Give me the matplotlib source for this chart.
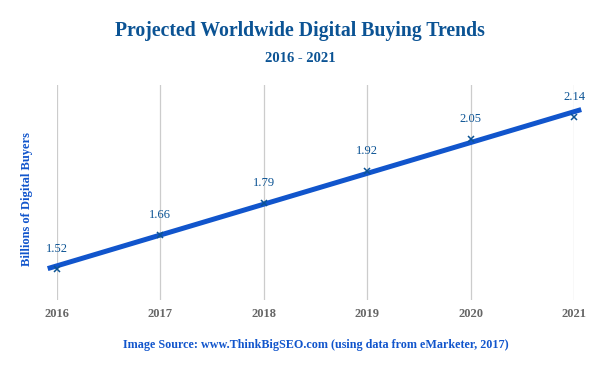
import matplotlib.pyplot as plt
import numpy as np

# data
years = [2016, 2017, 2018, 2019, 2020, 2021]
buyers = [1.52, 1.66, 1.79, 1.92, 2.05, 2.14]
labels = ['1.52', '1.66', '1.79', '1.92', '2.05', '2.14']

DARK = '#0b5394'
BLUE = '#1155cc'
plt.rcParams['font.family'] = ['Liberation Serif', 'DejaVu Serif']

fig = plt.figure(figsize=(6, 3.71), dpi=100)
ax = fig.add_axes([57 / 600, 71 / 371, 517 / 600, 215 / 371])

ax.set_xlim(2016, 2021)
ax.set_ylim(1.393, 2.27)

# linear trendline through the points
slope, icpt = np.polyfit(years, buyers, 1)
tx = np.array([2015.91, 2021.07])
ax.plot(tx, slope * tx + icpt, color=BLUE, lw=3.6, solid_capstyle='butt',
        clip_on=False, zorder=3)

ax.plot(years, buyers, 'x', color=DARK, ms=4, mew=1.1, zorder=4, clip_on=False)
for x, y, t in zip(years, buyers, labels):
    ax.annotate(t, (x, y), xytext=(0, 10), textcoords='offset points',
                ha='center', va='bottom', fontsize=9, color=DARK)

ax.set_xticks(years)
ax.set_xticklabels([str(y) for y in years], fontsize=9, fontweight='bold',
                   color='#666666')
ax.tick_params(axis='x', length=0, pad=5.5)
ax.set_yticks([])
ax.grid(axis='x', color='#cccccc', lw=0.9)
for s in ax.spines.values():
    s.set_visible(False)

fig.text(0.5, 1 - 31 / 371, 'Projected Worldwide Digital Buying Trends',
         ha='center', va='center', fontsize=14.2, fontweight='bold', color=DARK)
fig.text(0.5, 1 - 58 / 371, '2016 - 2021', ha='center', va='center',
         fontsize=10.5, fontweight='bold', color=DARK)
fig.text(27 / 600, 1 - 199 / 371, 'Billions of Digital Buyers', rotation=90,
         ha='center', va='center', fontsize=9, fontweight='bold', color=BLUE)
fig.text(316 / 600, 1 - 345 / 371,
         'Image Source: www.ThinkBigSEO.com (using data from eMarketer, 2017)',
         ha='center', va='center', fontsize=8.7, fontweight='bold', color=BLUE)

fig.savefig('out.png', dpi=100)
